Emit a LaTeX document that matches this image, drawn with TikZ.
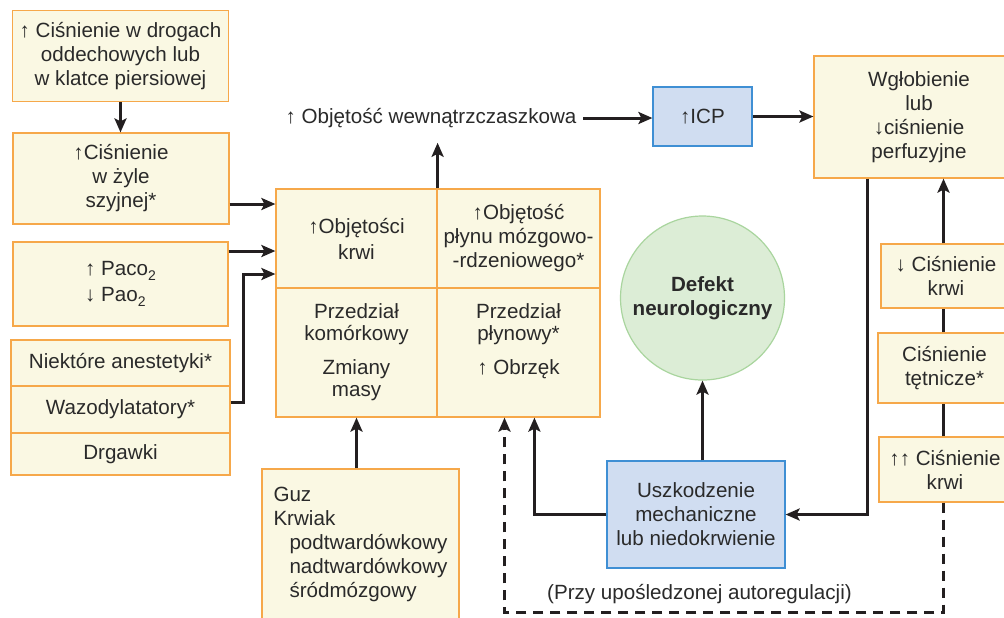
\documentclass[tikz,border=0pt]{standalone}
\usepackage{fontspec}
\setmainfont{Liberation Sans}
\usetikzlibrary{arrows.meta, calc, positioning}
\definecolor{boxfill}{HTML}{FAF8E3}
\definecolor{boxline}{HTML}{F6A84A}
\definecolor{bluefill}{HTML}{D0DDF1}
\definecolor{blueline}{HTML}{3F8FD4}
\definecolor{greenfill}{HTML}{DCEDD6}
\definecolor{greenline}{HTML}{A9D59E}
\definecolor{inkline}{HTML}{231F20}
\definecolor{inktext}{HTML}{2A2A2A}
\newcommand{\lowsub}[1]{\raisebox{-0.4ex}{\fontsize{7}{7}\selectfont #1}}

\begin{document}
\begin{tikzpicture}[x=0.5pt, y=-0.5pt, font=\fontsize{10.3}{12}\selectfont, text=inktext, cause node/.style={rectangle, draw=boxline, fill=boxfill, line width=0.6pt, align=center, inner sep=0pt}, blue node/.style={rectangle, draw=blueline, fill=bluefill, line width=0.6pt, align=center, inner sep=0pt}, circ node/.style={circle, draw=greenline, fill=greenfill, line width=0.6pt, align=center, inner sep=0pt}, arrow/.style={draw=inkline, line width=1.5pt, -{Stealth[length=7pt, width=6pt, inset=1.5pt]}}, link/.style={draw=inkline, line width=1.5pt}] %coordinates are pixels of the page, y runs down
\useasboundingbox (0,0) rectangle (1004,617);
\fill[white] (0,0) rectangle (1004,617);
\clip (0,0) rectangle (1004,617);
% causes on the left
\node[cause node, minimum width=108pt, minimum height=45.5pt](airway) at (120.5,56){↑ Ciśnienie w drogach\\oddechowych lub\\w klatce piersiowej};
\node[cause node, minimum width=108pt, minimum height=45.5pt](jugular) at (121,178.5){↑Ciśnienie\\w żyle\\szyjnej*};
\node[cause node, minimum width=107.5pt, minimum height=42pt, align=left, font=\fontsize{10.3}{13}\selectfont](gases) at (120.5,284){↑ Paco\lowsub{2}\\↓ Pao\lowsub{2}};
\node[cause node, minimum width=109.5pt, minimum height=23pt](anest) at (120.5,363){Niektóre anestetyki*};
\node[cause node, minimum width=109.5pt, minimum height=23.5pt](vasodil) at (120.5,409.5){Wazodylatatory*};
\node[cause node, minimum width=109.5pt, minimum height=21pt](seizure) at (120.5,454){Drgawki};
% the four compartments
\node[cause node, minimum width=80.5pt, minimum height=49.5pt, font=\fontsize{10.3}{13}\selectfont](blood) at (356.5,238.5){↑Objętości\\krwi};
\node[cause node, minimum width=81.5pt, minimum height=49.5pt](csf) at (518.5,238.5){↑Objętość\\płynu mózgowo-\\-rdzeniowego*};
\node[cause node, minimum width=80.5pt, minimum height=64.5pt, font=\fontsize{10.3}{11}\selectfont](cell) at (356.5,352.5){Przedział\\komórkowy\\[6pt]Zmiany\\masy};
\node[cause node, minimum width=81.5pt, minimum height=64.5pt, font=\fontsize{10.3}{11}\selectfont](fluid) at (518.5,352.5){Przedział\\płynowy*\\[6pt]↑ Obrzęk\\\phantom{masy}};
\node[cause node, minimum width=98.5pt, minimum height=75pt, align=left](mass) at (360.5,544){Guz\\Krwiak\\\hspace*{8pt}podtwardówkowy\\\hspace*{8pt}nadtwardówkowy\\\hspace*{8pt}śródmózgowy};
% top row and right side
\node[draw=none](icvol) at (431,118){↑ Objętość wewnątrzczaszkowa};
\node[blue node, minimum width=49.5pt, minimum height=29.5pt](icp) at (702.5,116.5){↑ICP};
\node[cause node, minimum width=105pt, minimum height=61pt](herniation) at (919,117){Wgłobienie\\lub\\↓ciśnienie\\perfuzyjne};
\node[cause node, minimum width=65pt, minimum height=32pt](lowbp) at (946,276){↓ Ciśnienie\\krwi};
\node[cause node, minimum width=66.5pt, minimum height=35pt](artbp) at (944.5,368){Ciśnienie\\tętnicze*};
\node[cause node, minimum width=66pt, minimum height=32.5pt](highbp) at (945,469.5){↑↑ Ciśnienie\\krwi};
\node[circ node, minimum size=82pt](deficit) at (702.5,298){\textbf{Defekt}\\\textbf{neurologiczny}};
\node[blue node, minimum width=89pt, minimum height=53.5pt](injury) at (696,514.5){Uszkodzenie\\mechaniczne\\lub niedokrwienie};
\node[draw=none](autoreg) at (699.5,594){(Przy upośledzonej autoregulacji)};
\coordinate (bpline) at (943.5,0);
\coordinate (dashbase) at (504.5,612.5);
% connectors
\draw[arrow] (airway.south) -- (airway.south |- jugular.north);
\draw[arrow] ($(jugular.east)+(0,25.5)$) -- ($(blood.west)+(0,-34.5)$);
\draw[arrow] ($(gases.east)+(0,-33)$) -- ($(blood.west)+(0,12.5)$);
\draw[arrow] ($(vasodil.east)+(0,-7.5)$) -- ++(13,0) |- ($(blood.west)+(0,35.5)$);
\draw[arrow] (blood.north east) -- ([yshift=-4pt]blood.north east |- icvol.south);
\draw[arrow] (icvol.east) -- (icvol.east -| icp.west);
\draw[arrow] (icp.east) -- (icp.east -| herniation.west);
\draw[arrow] ([xshift=27.25pt]herniation.south west) |- (injury.east);
\draw[arrow] (bpline |- lowbp.north) -- (bpline |- herniation.south);
\draw[link] (bpline |- artbp.north) -- (bpline |- lowbp.south);
\draw[link] (bpline |- highbp.north) -- (bpline |- artbp.south);
\draw[arrow, dash pattern=on 5pt off 3.5pt] (bpline |- highbp.south) |- (dashbase) -- (dashbase |- fluid.south);
\draw[arrow] (injury.west) -| ([xshift=49pt]fluid.south west);
\draw[arrow] (deficit.south |- injury.north) -- (deficit.south);
\draw[arrow] (cell.south |- mass.north) -- (cell.south);
\end{tikzpicture}
\end{document}
